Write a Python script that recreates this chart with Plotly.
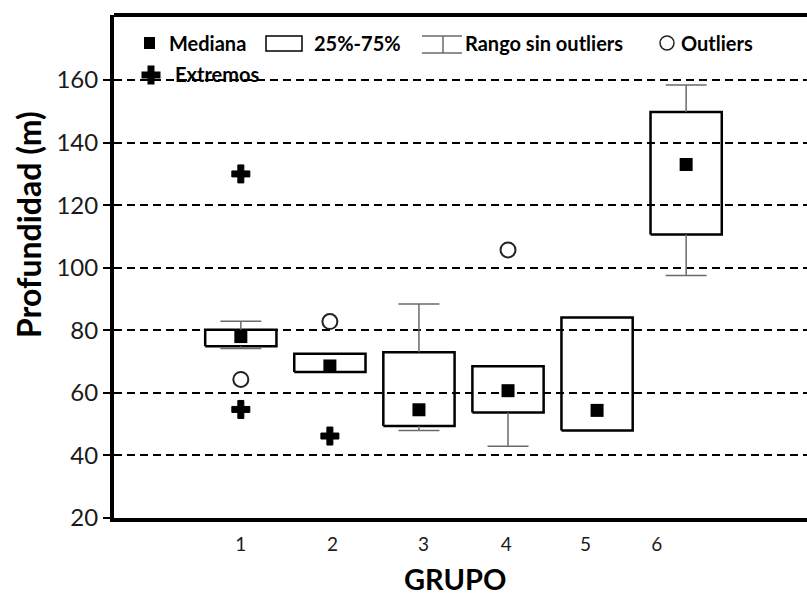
import plotly.graph_objects as go

# Box statistics per group (depth in metres)
groups = [1, 2, 3, 4, 5, 6]
group_labels = ["1", "2", "3", "4", "5", "6"]
q1 = [74.9, 66.7, 49.4, 53.7, 48.0, 110.6]
q3 = [80.2, 72.5, 73.0, 68.5, 84.1, 149.8]
medians = [78.0, 68.6, 54.6, 60.7, 54.4, 133.0]
whisker_low = [74.2, None, 48.0, 42.9, None, 97.5]
whisker_high = [82.9, None, 88.4, None, None, 158.4]

# Outliers and extreme values
outlier_group = [1, 2, 4]
outlier_value = [64.3, 82.8, 105.7]
extreme_group = [1, 1, 2]
extreme_value = [130.0, 54.7, 46.2]

y_ticks = [20, 40, 60, 80, 100, 120, 140, 160]
label_pos = [1.0, 2.03, 3.05, 3.98, 4.87, 5.67]

FONT = "Lato"
BOX_HW = 0.40    # half box width (x units)
CAP_HW = 0.23    # half cap width
W, H = 807, 598
ML, MR, MT, MB = 114, 0, 15, 80

fig = go.Figure()

# Boxes (25%-75%)
bx, by = [], []
for g, a, b in zip(groups, q1, q3):
    bx += [g - BOX_HW, g + BOX_HW, g + BOX_HW, g - BOX_HW, g - BOX_HW, None]
    by += [a, a, b, b, a, None]
fig.add_trace(go.Scatter(x=bx, y=by, mode="lines", hoverinfo="skip",
                         line=dict(color="black", width=2.5), showlegend=False))

# Whiskers (range without outliers)
wx, wy = [], []
for g, a, b, lo, hi in zip(groups, q1, q3, whisker_low, whisker_high):
    if lo is not None:
        wx += [g, g, None, g - CAP_HW, g + CAP_HW, None]
        wy += [a, lo, None, lo, lo, None]
    if hi is not None:
        wx += [g, g, None, g - CAP_HW, g + CAP_HW, None]
        wy += [b, hi, None, hi, hi, None]
fig.add_trace(go.Scatter(x=wx, y=wy, mode="lines", hoverinfo="skip",
                         line=dict(color="#6a6a6a", width=1.5), showlegend=False))

# Medians
fig.add_trace(go.Scatter(x=groups, y=medians, mode="markers", showlegend=False,
                         marker=dict(symbol="square", size=13, color="black")))

# Outliers
fig.add_trace(go.Scatter(x=outlier_group, y=outlier_value, mode="markers", showlegend=False,
                         marker=dict(symbol="circle-open", size=15, color="#222",
                                     line=dict(width=2, color="#222"))))

# Extremes
fig.add_trace(go.Scatter(x=extreme_group, y=extreme_value, mode="markers", showlegend=False,
                         marker=dict(symbol="cross", size=15, color="black",
                                     line=dict(width=1, color="black"))))

# Pixel -> paper helpers for the hand-built key
PW, PH = W - ML - MR, H - MT - MB
def px(x):
    return (x - ML) / PW
def py(y):
    return (H - MB - y) / PH

shapes = [
    dict(type="line", xref="paper", yref="paper", x0=0, x1=1, y0=1, y1=1,
         line=dict(color="black", width=4)),
    dict(type="rect", xref="paper", yref="paper", x0=px(144), x1=px(155), y0=py(49), y1=py(37),
         fillcolor="black", line=dict(width=0)),
    dict(type="rect", xref="paper", yref="paper", x0=px(266), x1=px(302), y0=py(51), y1=py(36),
         line=dict(color="black", width=1.5)),
    dict(type="line", xref="paper", yref="paper", x0=px(422), x1=px(462), y0=py(36), y1=py(36),
         line=dict(color="#6a6a6a", width=1.5)),
    dict(type="line", xref="paper", yref="paper", x0=px(422), x1=px(462), y0=py(53), y1=py(53),
         line=dict(color="#6a6a6a", width=1.5)),
    dict(type="line", xref="paper", yref="paper", x0=px(443), x1=px(443), y0=py(36), y1=py(53),
         line=dict(color="#6a6a6a", width=1.5)),
    dict(type="circle", xref="paper", yref="paper", x0=px(660), x1=px(674), y0=py(50), y1=py(36),
         line=dict(color="#222", width=1.5)),
]
# Cross glyph for "Extremos"
cx, cy, r, a = 151, 75, 9.5, 3.5
pts = [(-a, -r), (a, -r), (a, -a), (r, -a), (r, a), (a, a), (a, r), (-a, r),
       (-a, a), (-r, a), (-r, -a), (-a, -a)]
path = "M " + " L ".join(f"{px(cx + dx):.5f},{py(cy + dy):.5f}" for dx, dy in pts) + " Z"
shapes.append(dict(type="path", xref="paper", yref="paper", path=path,
                   fillcolor="black", line=dict(width=0)))

key_font = dict(family=FONT, size=20, color="black", weight="bold")
annotations = []
for text, x0, y0 in [("Mediana", 167, 43), ("25%-75%", 312, 43),
                     ("Rango sin outliers", 463, 43), ("Outliers", 679, 43),
                     ("Extremos", 173, 74)]:
    annotations.append(dict(text=text, xref="paper", yref="paper", x=px(x0), y=py(y0),
                            xanchor="left", yanchor="middle", showarrow=False, font=key_font))

annotations.append(dict(text="Profundidad (m)", xref="paper", yref="paper",
                        x=px(28), y=py(225), textangle=-90, showarrow=False,
                        xanchor="center", yanchor="middle",
                        font=dict(family=FONT, size=32, color="black", weight="bold")))
annotations.append(dict(text="GRUPO", xref="paper", yref="paper",
                        x=px(455), y=py(578), showarrow=False,
                        xanchor="center", yanchor="middle",
                        font=dict(family=FONT, size=29, color="black", weight="bold")))

fig.update_layout(
    width=W, height=H,
    margin=dict(l=ML, r=MR, t=MT, b=MB),
    paper_bgcolor="white", plot_bgcolor="white",
    shapes=shapes, annotations=annotations,
    xaxis=dict(range=[-0.424, 7.357], showgrid=False, zeroline=False,
               showline=True, linecolor="black", linewidth=4,
               tickvals=label_pos, ticktext=group_labels, ticks="",
               ticklabelstandoff=6,
               tickfont=dict(family=FONT, size=19, color="#1a1a1a")),
    yaxis=dict(range=[20, 180.8], tickvals=y_ticks, zeroline=False,
               showgrid=True, gridcolor="black", gridwidth=2, griddash="8px,5px",
               showline=True, linecolor="black", linewidth=4,
               ticks="outside", ticklen=7, tickwidth=2, tickcolor="black",
               tickfont=dict(family=FONT, size=24, color="#1a1a1a")),
)

fig.write_html("out.html")
